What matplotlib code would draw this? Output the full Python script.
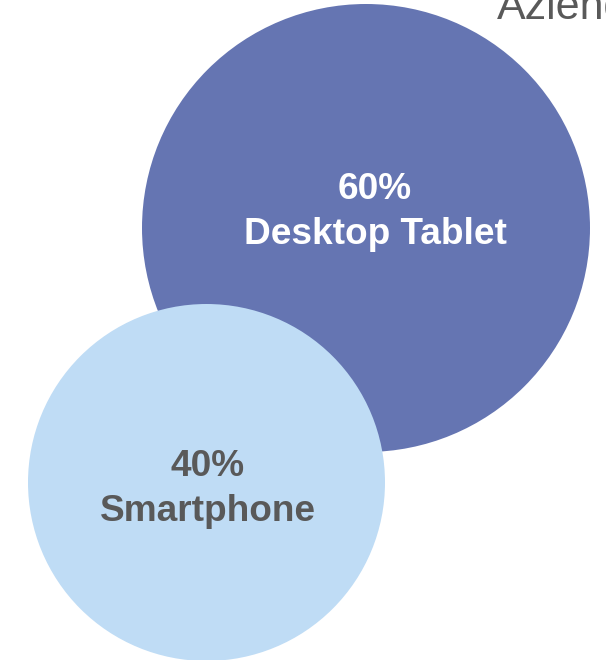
import matplotlib
matplotlib.use("Agg")
import matplotlib.pyplot as plt
from matplotlib.patches import Circle

plt.rcParams['font.family'] = ['Liberation Sans', 'DejaVu Sans']

categories = ["Desktop Tablet", "Smartphone"]
values = [60, 40]
labels = ["60%", "40%"]
title = "Aziende"

# layout (pixels, y down)
centers = [(366, 228), (206.5, 482.5)]
R_MAX = 224
colors = ["#6575B2", "#BFDCF5"]
text_colors = ["white", "#595959"]
text_pos = [((375, 199), (375, 244)), ((208, 476), (208, 521))]

fig = plt.figure(figsize=(6.06, 6.60), dpi=100)
ax = fig.add_axes([0, 0, 1, 1])
ax.set_xlim(0, 606)
ax.set_ylim(660, 0)
ax.set_aspect('equal')
ax.axis('off')

vmax = max(values)
for v, c, col in zip(values, centers, colors):
    r = R_MAX * (v / vmax) ** 0.56
    ax.add_patch(Circle(c, r, facecolor=col, edgecolor='none'))

fs = 37 * 72 / 100
for lab, cat, tc, (p1, p2) in zip(labels, categories, text_colors, text_pos):
    ax.text(p1[0], p1[1], lab, ha='center', va='baseline', fontsize=fs,
            fontweight='bold', color=tc)
    ax.text(p2[0], p2[1], cat, ha='center', va='baseline', fontsize=fs,
            fontweight='bold', color=tc)

ax.text(497, 19, title, ha='left', va='baseline', fontsize=43 * 72 / 100,
        color='#595959', clip_on=False)

fig.savefig("out.png", dpi=100)
